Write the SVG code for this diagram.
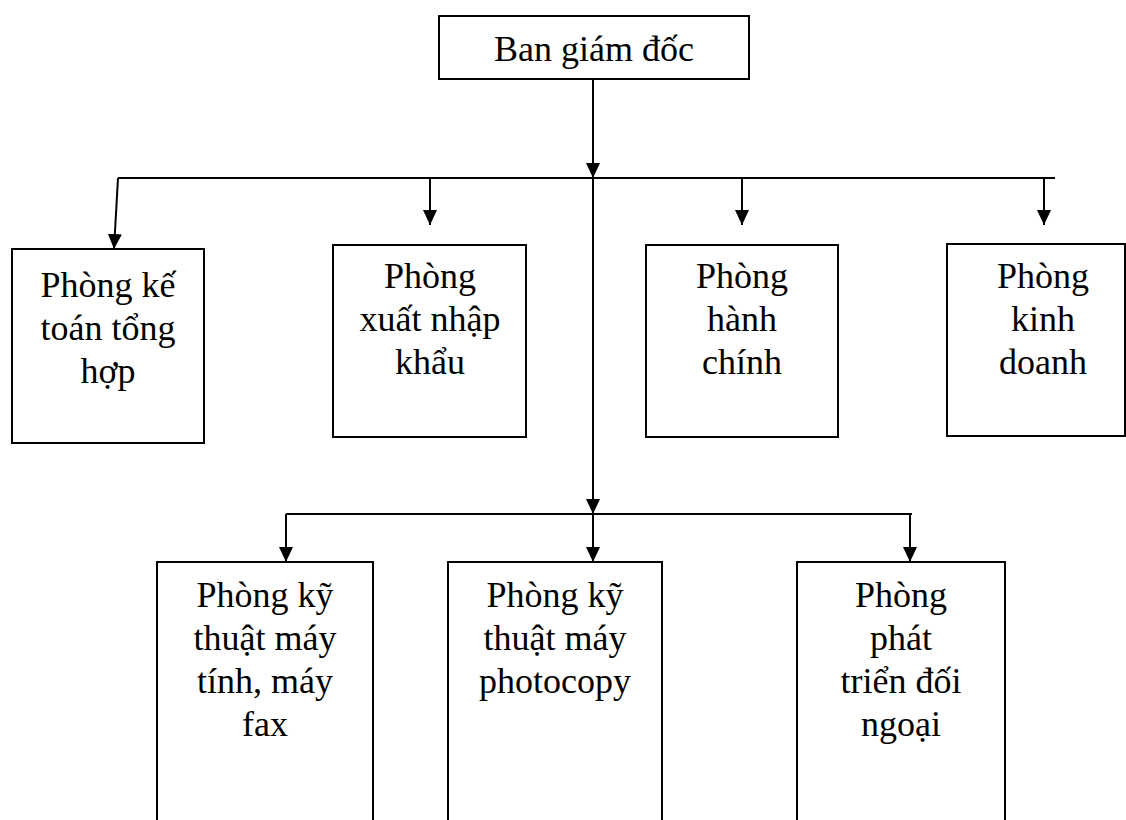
<svg xmlns="http://www.w3.org/2000/svg" width="1126" height="820" viewBox="0 0 1126 820">
<style>
.box{fill:#fff;stroke:#000;stroke-width:2}
.ln{fill:none;stroke:#000;stroke-width:2}
.ar{fill:none;stroke:#000;stroke-width:2;marker-end:url(#ah)}
text{font-family:"Liberation Serif","Times New Roman",serif;font-size:36px;fill:#000;text-anchor:middle}
</style>
<defs>
<marker id="ah" viewBox="0 0 15 14" refX="15" refY="7" markerWidth="15" markerHeight="14" markerUnits="userSpaceOnUse" orient="auto">
<path d="M0,0 L15,7 L0,14 Z" fill="#000"/>
</marker>
</defs>
<rect width="1126" height="820" fill="#fff"/>
<g id="connectors">
<line class="ar" x1="593" y1="80" x2="593" y2="178"/>
<line class="ln" x1="118" y1="178" x2="1055" y2="178"/>
<line class="ar" x1="118" y1="178" x2="114" y2="249"/>
<line class="ar" x1="430" y1="178" x2="430" y2="225"/>
<line class="ar" x1="742" y1="178" x2="742" y2="225"/>
<line class="ar" x1="1044" y1="178" x2="1044" y2="225"/>
<line class="ar" x1="593" y1="178" x2="593" y2="514"/>
<line class="ln" x1="286" y1="514" x2="912" y2="514"/>
<line class="ar" x1="286" y1="514" x2="286" y2="562"/>
<line class="ar" x1="593" y1="514" x2="593" y2="562"/>
<line class="ar" x1="910" y1="514" x2="910" y2="562"/>
</g>
<g id="n-bgd">
<rect class="box" x="439" y="16" width="310" height="63"/>
<text x="594" y="61">Ban giám đốc</text>
</g>
<g id="n-ketoan">
<rect class="box" x="12" y="249" width="192" height="194"/>
<text x="108" y="297">Phòng kế</text>
<text x="108" y="340">toán tổng</text>
<text x="108" y="383">hợp</text>
</g>
<g id="n-xnk">
<rect class="box" x="333" y="245" width="193" height="192"/>
<text x="430" y="288">Phòng</text>
<text x="430" y="331">xuất nhập</text>
<text x="430" y="374">khẩu</text>
</g>
<g id="n-hanhchinh">
<rect class="box" x="646" y="245" width="192" height="192"/>
<text x="742" y="288">Phòng</text>
<text x="742" y="331">hành</text>
<text x="742" y="374">chính</text>
</g>
<g id="n-kinhdoanh">
<rect class="box" x="947" y="244" width="178" height="192"/>
<text x="1043" y="288">Phòng</text>
<text x="1043" y="331">kinh</text>
<text x="1043" y="374">doanh</text>
</g>
<g id="n-ktmt">
<rect class="box" x="157" y="562" width="216" height="270"/>
<text x="265" y="607">Phòng kỹ</text>
<text x="265" y="650">thuật máy</text>
<text x="265" y="693">tính, máy</text>
<text x="265" y="736">fax</text>
</g>
<g id="n-ktpc">
<rect class="box" x="448" y="562" width="214" height="270"/>
<text x="555" y="607">Phòng kỹ</text>
<text x="555" y="650">thuật máy</text>
<text x="555" y="693">photocopy</text>
</g>
<g id="n-ptdn">
<rect class="box" x="797" y="562" width="208" height="270"/>
<text x="901" y="607">Phòng</text>
<text x="901" y="650">phát</text>
<text x="901" y="693">triển đối</text>
<text x="901" y="736">ngoại</text>
</g>
</svg>
